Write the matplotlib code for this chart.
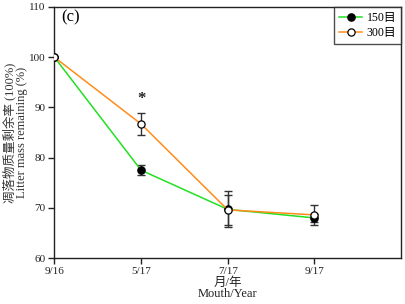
import matplotlib.pyplot as plt

plt.rcParams['font.family'] = ['Liberation Serif', 'Noto Sans CJK SC']

# Data
dates = ['9/16', '5/17', '7/17', '9/17']
mesh150 = [100.0, 77.5, 69.7, 68.0]
err150 = [0.0, 1.0, 3.6, 0.8]
mesh300 = [100.0, 86.7, 69.6, 68.6]
err300 = [0.0, 2.2, 3.0, 2.0]

x = list(range(len(dates)))

fig = plt.figure(figsize=(4.06, 3.04), dpi=100)
ax = fig.add_axes([0.134, 0.151, 0.854, 0.826])

c_green = '#22e022'
c_orange = '#ff8c1a'
c_err = '#333333'

ax.errorbar(x, mesh150, yerr=err150, fmt='none', ecolor=c_err,
            elinewidth=1.0, capsize=2.6, capthick=1.0, zorder=2)
ax.errorbar(x, mesh300, yerr=err300, fmt='none', ecolor=c_err,
            elinewidth=1.0, capsize=2.6, capthick=1.0, zorder=2)
ax.plot(x, mesh150, color=c_green, lw=1.1, marker='o', ms=5.2,
        mfc='black', mec='black', label='150目', zorder=3)
ax.plot(x, mesh300, color=c_orange, lw=1.1, marker='o', ms=5.2,
        mfc='white', mec='black', mew=0.9, label='300目', zorder=4)

# significance mark
ax.text(x[1], 90.0, '*', ha='center', va='bottom',
        fontsize=12, fontweight='bold', color='#222222')

ax.text(0.02, 0.99, '(c)', transform=ax.transAxes, ha='left', va='top',
        fontsize=12)

ax.set_xlim(0, 4)
ax.set_ylim(60, 110)
ax.set_xticks(x)
ax.set_xticklabels(dates)
ax.set_yticks([60, 70, 80, 90, 100, 110])
ax.tick_params(direction='out', length=4, width=1, labelsize=8, pad=2.5,
               colors='#222222')
for s in ax.spines.values():
    s.set_linewidth(1.0)
    s.set_color('#222222')

ax.set_xlabel('月/年\nMouth/Year', fontsize=9, linespacing=0.9,
              color='#222222')
ax.xaxis.set_label_coords(0.5, -0.075)
ax.set_ylabel('凋落物质量剩余率 (100%)\nLitter mass remaining (%)',
              fontsize=9, linespacing=1.0, color='#333333')
ax.yaxis.set_label_coords(-0.075, 0.5)

leg = ax.legend(loc='upper right', fontsize=8.5, frameon=True,
                fancybox=False, borderaxespad=0, handlelength=1.95,
                borderpad=0.4, labelspacing=0.3, handletextpad=0.4)
leg.get_frame().set_edgecolor('#222222')
leg.get_frame().set_linewidth(1.0)

fig.savefig('out.png', dpi=100)
